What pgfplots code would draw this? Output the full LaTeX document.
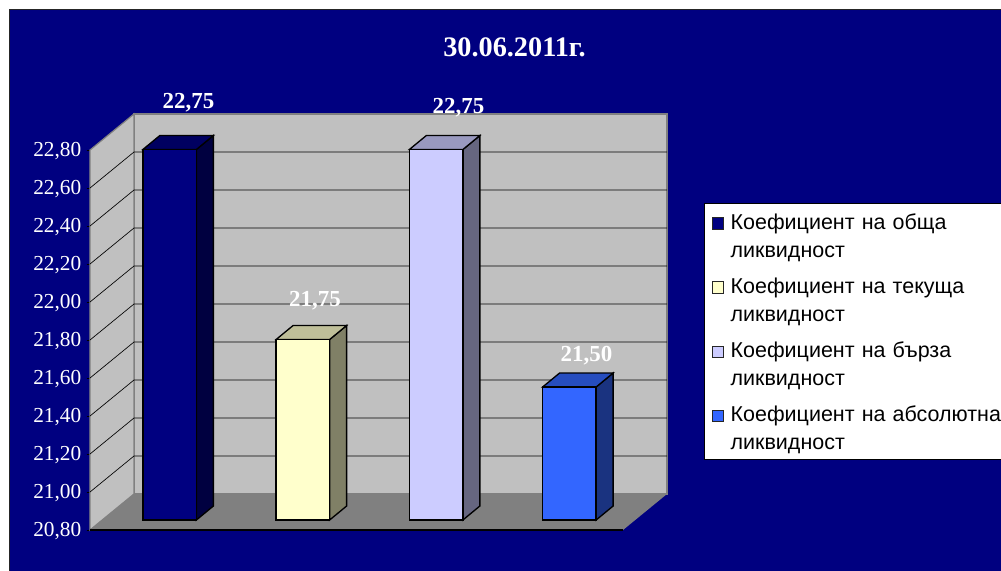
\documentclass[border=0pt]{standalone}
\usepackage{pgfplots}
\pgfplotsset{compat=1.18}
\usepackage{fontspec}
\setmainfont{Liberation Serif}
\newfontfamily\lsans{Liberation Sans}
\definecolor{bgnavy}{HTML}{000080}
\definecolor{wall}{HTML}{C0C0C0}
\definecolor{floorc}{HTML}{808080}
\definecolor{aF}{HTML}{000080}\definecolor{aT}{HTML}{000060}\definecolor{aS}{HTML}{000040}
\definecolor{bF}{HTML}{FFFFCC}\definecolor{bT}{HTML}{BFBF99}\definecolor{bS}{HTML}{808066}
\definecolor{cF}{HTML}{CCCCFF}\definecolor{cT}{HTML}{9999BF}\definecolor{cS}{HTML}{666680}
\definecolor{dF}{HTML}{3366FF}\definecolor{dT}{HTML}{264DBF}\definecolor{dS}{HTML}{1A3380}
\newcommand\lgs{\rule{0pt}{15.5pt}}
\pgfplotsset{
  frameaxis/.style={
    scale only axis, width=399.75pt, height=285pt, anchor=south west,
    clip=false, axis line style={draw=none}, unbounded coords=jump,
  },
}
\begin{document}
\begin{tikzpicture}
\path[use as bounding box] (0pt,0pt) rectangle (750.75pt,-428.25pt);
\begin{scope}[x=.75pt,y=-.75pt]
  \fill[white] (0,0) rectangle (1001,571);
  \fill[bgnavy] (9,9) rectangle (1001,571);
  \draw[black!85,line width=.6pt] (9,571) -- (9,9) -- (1001,9);
\end{scope}
% walls, floor, grid: front plane of the chart
\begin{axis}[frameaxis, at={(67.5pt,-397.5pt)},
  xmin=0, xmax=533, ymin=20.8, ymax=22.8,
  xtick=\empty,
  ytick={20.8,21,21.2,21.4,21.6,21.8,22,22.2,22.4,22.6,22.8},
  tick align=outside, ytick pos=left,
  major tick length=2.6pt,
  ytick style={black,line width=.6pt},
  yticklabel style={white,font=\fontsize{16}{18}\selectfont,xshift=-0.4pt,yshift=-1pt},
  /pgf/number format/.cd, use comma, fixed, fixed zerofill, precision=2, assume math mode=true,
]
\addplot[fill=wall,draw=floorc,line width=.9pt] coordinates {(44,20.9895)(577,20.9895)(577,22.9895)(44,22.9895)} -- cycle;
\addplot[fill=wall,draw=floorc,line width=.9pt] coordinates {(0,20.8)(44,20.9895)(44,22.9895)(0,22.8)} -- cycle;
\addplot[fill=floorc,draw=none] coordinates {(0,20.8)(533,20.8)(577,20.9895)(44,20.9895)} -- cycle;
\addplot[black,line width=.5pt] coordinates {
 (0,21.0)(44,21.1895)(577,21.1895)(577,nan)
 (0,21.2)(44,21.3895)(577,21.3895)(577,nan)
 (0,21.4)(44,21.5895)(577,21.5895)(577,nan)
 (0,21.6)(44,21.7895)(577,21.7895)(577,nan)
 (0,21.8)(44,21.9895)(577,21.9895)(577,nan)
 (0,22.0)(44,22.1895)(577,22.1895)(577,nan)
 (0,22.2)(44,22.3895)(577,22.3895)(577,nan)
 (0,22.4)(44,22.5895)(577,22.5895)(577,nan)
 (0,22.6)(44,22.7895)(577,22.7895)
};
\addplot[black,line width=.8pt] coordinates {(0,20.8)(533,20.8)};
\end{axis}
% bars: plane 13px right / 10px up of the front plane
\begin{axis}[frameaxis, at={(77.25pt,-390pt)},
  xmin=0.5, xmax=4.5, ymin=20.8, ymax=22.8,
  xtick=\empty, ytick=\empty,
  legend style={at={(1.1276,0.8329)},anchor=north west,draw=black,fill=white,
    line width=.5pt,
    font=\lsans\fontsize{16.1}{21}\selectfont,
    inner xsep=0pt, inner ysep=4pt,
    nodes={text width=267pt,align=left,inner sep=0pt,inner xsep=0pt,text depth=},
    row sep=8.4pt, outer sep=0pt},
  legend cell align=left,
  legend image code/.code={\path[draw=none,fill=none] (0pt,0pt) -- (20pt,0pt);\draw[#1,line width=.6pt,draw=black!85] (6pt,13.2pt) rectangle (14.7pt,4.5pt);},
]
\addplot[forget plot,fill=aS,draw=black,line width=1pt] coordinates {(1.2008,20.8)(1.3284,20.8737)(1.3284,22.8237)(1.2008,22.75)} -- cycle;
\addplot[forget plot,fill=aT,draw=black,line width=1pt] coordinates {(0.7992,22.75)(0.9268,22.8237)(1.3284,22.8237)(1.2008,22.75)} -- cycle;
\addplot[forget plot,ybar,bar width=40.1pt,bar shift=0pt,fill=aF,draw=black,line width=1pt] coordinates {(1,22.75)};
\addplot[forget plot,fill=bS,draw=black,line width=1pt] coordinates {(2.2008,20.8)(2.3284,20.8737)(2.3284,21.8237)(2.2008,21.75)} -- cycle;
\addplot[forget plot,fill=bT,draw=black,line width=1pt] coordinates {(1.7992,21.75)(1.9268,21.8237)(2.3284,21.8237)(2.2008,21.75)} -- cycle;
\addplot[forget plot,ybar,bar width=40.1pt,bar shift=0pt,fill=bF,draw=black,line width=1pt] coordinates {(2,21.75)};
\addplot[forget plot,fill=cS,draw=black,line width=1pt] coordinates {(3.2008,20.8)(3.3284,20.8737)(3.3284,22.8237)(3.2008,22.75)} -- cycle;
\addplot[forget plot,fill=cT,draw=black,line width=1pt] coordinates {(2.7992,22.75)(2.9268,22.8237)(3.3284,22.8237)(3.2008,22.75)} -- cycle;
\addplot[forget plot,ybar,bar width=40.1pt,bar shift=0pt,fill=cF,draw=black,line width=1pt] coordinates {(3,22.75)};
\addplot[forget plot,fill=dS,draw=black,line width=1pt] coordinates {(4.2008,20.8)(4.3284,20.8737)(4.3284,21.5737)(4.2008,21.5)} -- cycle;
\addplot[forget plot,fill=dT,draw=black,line width=1pt] coordinates {(3.7992,21.5)(3.9268,21.5737)(4.3284,21.5737)(4.2008,21.5)} -- cycle;
\addplot[forget plot,ybar,bar width=40.1pt,bar shift=0pt,fill=dF,draw=black,line width=1pt] coordinates {(4,21.5)};
\addlegendimage{fill=aF}
\addlegendentry{\lgs Коефициент на обща\\ликвидност}
\addlegendimage{fill=bF}
\addlegendentry{\lgs Коефициент на текуща\\ликвидност}
\addlegendimage{fill=cF}
\addlegendentry{\lgs Коефициент на бърза\\ликвидност}
\addlegendimage{fill=dF}
\addlegendentry{\lgs Коефициент на абсолютна\\ликвидност}
\end{axis}
\begin{scope}[x=.75pt,y=-.75pt]
  \node[white,font=\bfseries\fontsize{21.2}{24}\selectfont,anchor=base] at (514.5,56) {30.06.2011г.};
  \node[white,font=\bfseries\fontsize{17.2}{20}\selectfont,anchor=base] at (188.5,108) {22,75};
  \node[white,font=\bfseries\fontsize{17.2}{20}\selectfont,anchor=base] at (315,306) {21,75};
  \node[white,font=\bfseries\fontsize{17.2}{20}\selectfont,anchor=base] at (458.5,113) {22,75};
  \node[white,font=\bfseries\fontsize{17.2}{20}\selectfont,anchor=base] at (586.5,361) {21,50};
\end{scope}
\end{tikzpicture}
\end{document}
